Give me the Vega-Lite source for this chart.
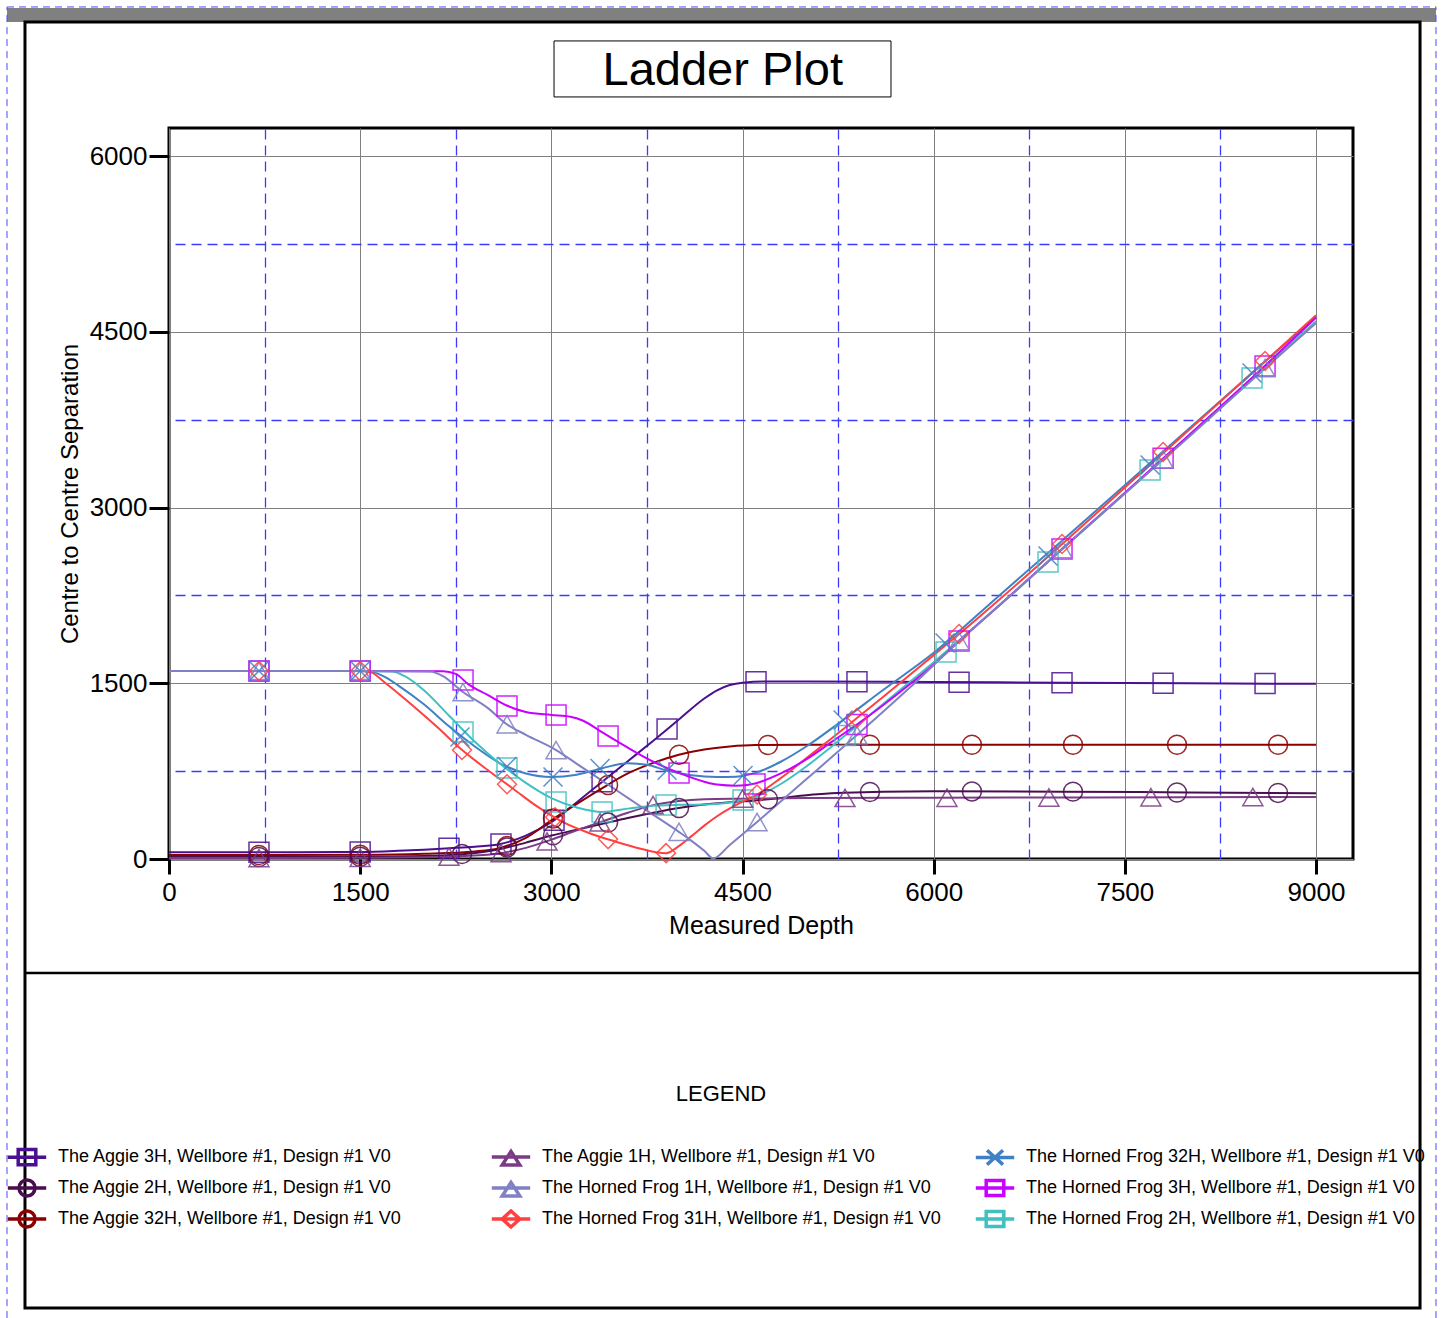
{
  "$schema": "https://vega.github.io/schema/vega-lite/v6.json",
  "width": 1184,
  "height": 731,
  "autosize": {"type": "none"},
  "padding": {"left": 169, "top": 128, "right": 88, "bottom": 459},
  "background": "white",
  "config": {"view": {"stroke": "black", "strokeWidth": 3}},
  "datasets": {
    "curves": [
      {"well":"The Aggie 3H, Wellbore #1, Design #1 V0","md":0,"sep":57},{"well":"The Aggie 3H, Wellbore #1, Design #1 V0","md":1000,"sep":58},{"well":"The Aggie 3H, Wellbore #1, Design #1 V0","md":1500,"sep":60},{"well":"The Aggie 3H, Wellbore #1, Design #1 V0","md":1800,"sep":70},{"well":"The Aggie 3H, Wellbore #1, Design #1 V0","md":2000,"sep":80},{"well":"The Aggie 3H, Wellbore #1, Design #1 V0","md":2200,"sep":92},{"well":"The Aggie 3H, Wellbore #1, Design #1 V0","md":2400,"sep":105},{"well":"The Aggie 3H, Wellbore #1, Design #1 V0","md":2600,"sep":128},{"well":"The Aggie 3H, Wellbore #1, Design #1 V0","md":2800,"sep":200},{"well":"The Aggie 3H, Wellbore #1, Design #1 V0","md":3000,"sep":315},{"well":"The Aggie 3H, Wellbore #1, Design #1 V0","md":3200,"sep":485},{"well":"The Aggie 3H, Wellbore #1, Design #1 V0","md":3400,"sep":660},{"well":"The Aggie 3H, Wellbore #1, Design #1 V0","md":3600,"sep":835},{"well":"The Aggie 3H, Wellbore #1, Design #1 V0","md":3800,"sep":1010},{"well":"The Aggie 3H, Wellbore #1, Design #1 V0","md":4000,"sep":1190},{"well":"The Aggie 3H, Wellbore #1, Design #1 V0","md":4200,"sep":1370},{"well":"The Aggie 3H, Wellbore #1, Design #1 V0","md":4300,"sep":1440},{"well":"The Aggie 3H, Wellbore #1, Design #1 V0","md":4400,"sep":1485},{"well":"The Aggie 3H, Wellbore #1, Design #1 V0","md":4500,"sep":1505},{"well":"The Aggie 3H, Wellbore #1, Design #1 V0","md":4700,"sep":1515},{"well":"The Aggie 3H, Wellbore #1, Design #1 V0","md":5000,"sep":1515},{"well":"The Aggie 3H, Wellbore #1, Design #1 V0","md":6000,"sep":1510},{"well":"The Aggie 3H, Wellbore #1, Design #1 V0","md":7000,"sep":1505},{"well":"The Aggie 3H, Wellbore #1, Design #1 V0","md":8000,"sep":1500},{"well":"The Aggie 3H, Wellbore #1, Design #1 V0","md":9000,"sep":1495},
      {"well":"The Aggie 32H, Wellbore #1, Design #1 V0","md":0,"sep":34},{"well":"The Aggie 32H, Wellbore #1, Design #1 V0","md":1500,"sep":36},{"well":"The Aggie 32H, Wellbore #1, Design #1 V0","md":2000,"sep":45},{"well":"The Aggie 32H, Wellbore #1, Design #1 V0","md":2400,"sep":65},{"well":"The Aggie 32H, Wellbore #1, Design #1 V0","md":2600,"sep":95},{"well":"The Aggie 32H, Wellbore #1, Design #1 V0","md":2800,"sep":180},{"well":"The Aggie 32H, Wellbore #1, Design #1 V0","md":3000,"sep":330},{"well":"The Aggie 32H, Wellbore #1, Design #1 V0","md":3200,"sep":470},{"well":"The Aggie 32H, Wellbore #1, Design #1 V0","md":3400,"sep":605},{"well":"The Aggie 32H, Wellbore #1, Design #1 V0","md":3600,"sep":730},{"well":"The Aggie 32H, Wellbore #1, Design #1 V0","md":3800,"sep":820},{"well":"The Aggie 32H, Wellbore #1, Design #1 V0","md":4000,"sep":890},{"well":"The Aggie 32H, Wellbore #1, Design #1 V0","md":4200,"sep":935},{"well":"The Aggie 32H, Wellbore #1, Design #1 V0","md":4400,"sep":960},{"well":"The Aggie 32H, Wellbore #1, Design #1 V0","md":4600,"sep":972},{"well":"The Aggie 32H, Wellbore #1, Design #1 V0","md":5000,"sep":975},{"well":"The Aggie 32H, Wellbore #1, Design #1 V0","md":9000,"sep":975},
      {"well":"The Aggie 2H, Wellbore #1, Design #1 V0","md":0,"sep":17},{"well":"The Aggie 2H, Wellbore #1, Design #1 V0","md":1500,"sep":19},{"well":"The Aggie 2H, Wellbore #1, Design #1 V0","md":2000,"sep":25},{"well":"The Aggie 2H, Wellbore #1, Design #1 V0","md":2300,"sep":40},{"well":"The Aggie 2H, Wellbore #1, Design #1 V0","md":2600,"sep":85},{"well":"The Aggie 2H, Wellbore #1, Design #1 V0","md":2800,"sep":140},{"well":"The Aggie 2H, Wellbore #1, Design #1 V0","md":3000,"sep":200},{"well":"The Aggie 2H, Wellbore #1, Design #1 V0","md":3200,"sep":250},{"well":"The Aggie 2H, Wellbore #1, Design #1 V0","md":3400,"sep":300},{"well":"The Aggie 2H, Wellbore #1, Design #1 V0","md":3600,"sep":350},{"well":"The Aggie 2H, Wellbore #1, Design #1 V0","md":3800,"sep":395},{"well":"The Aggie 2H, Wellbore #1, Design #1 V0","md":4000,"sep":435},{"well":"The Aggie 2H, Wellbore #1, Design #1 V0","md":4200,"sep":465},{"well":"The Aggie 2H, Wellbore #1, Design #1 V0","md":4400,"sep":485},{"well":"The Aggie 2H, Wellbore #1, Design #1 V0","md":4600,"sep":500},{"well":"The Aggie 2H, Wellbore #1, Design #1 V0","md":4800,"sep":520},{"well":"The Aggie 2H, Wellbore #1, Design #1 V0","md":5000,"sep":545},{"well":"The Aggie 2H, Wellbore #1, Design #1 V0","md":5300,"sep":565},{"well":"The Aggie 2H, Wellbore #1, Design #1 V0","md":5600,"sep":575},{"well":"The Aggie 2H, Wellbore #1, Design #1 V0","md":6000,"sep":578},{"well":"The Aggie 2H, Wellbore #1, Design #1 V0","md":7000,"sep":575},{"well":"The Aggie 2H, Wellbore #1, Design #1 V0","md":8000,"sep":568},{"well":"The Aggie 2H, Wellbore #1, Design #1 V0","md":9000,"sep":562},
      {"well":"The Aggie 1H, Wellbore #1, Design #1 V0","md":0,"sep":8},{"well":"The Aggie 1H, Wellbore #1, Design #1 V0","md":1500,"sep":10},{"well":"The Aggie 1H, Wellbore #1, Design #1 V0","md":2000,"sep":15},{"well":"The Aggie 1H, Wellbore #1, Design #1 V0","md":2300,"sep":25},{"well":"The Aggie 1H, Wellbore #1, Design #1 V0","md":2600,"sep":50},{"well":"The Aggie 1H, Wellbore #1, Design #1 V0","md":2800,"sep":95},{"well":"The Aggie 1H, Wellbore #1, Design #1 V0","md":3000,"sep":165},{"well":"The Aggie 1H, Wellbore #1, Design #1 V0","md":3200,"sep":245},{"well":"The Aggie 1H, Wellbore #1, Design #1 V0","md":3400,"sep":320},{"well":"The Aggie 1H, Wellbore #1, Design #1 V0","md":3600,"sep":395},{"well":"The Aggie 1H, Wellbore #1, Design #1 V0","md":3800,"sep":460},{"well":"The Aggie 1H, Wellbore #1, Design #1 V0","md":4000,"sep":495},{"well":"The Aggie 1H, Wellbore #1, Design #1 V0","md":4200,"sep":510},{"well":"The Aggie 1H, Wellbore #1, Design #1 V0","md":4500,"sep":515},{"well":"The Aggie 1H, Wellbore #1, Design #1 V0","md":5000,"sep":520},{"well":"The Aggie 1H, Wellbore #1, Design #1 V0","md":6000,"sep":523},{"well":"The Aggie 1H, Wellbore #1, Design #1 V0","md":7000,"sep":525},{"well":"The Aggie 1H, Wellbore #1, Design #1 V0","md":8000,"sep":527},{"well":"The Aggie 1H, Wellbore #1, Design #1 V0","md":9000,"sep":530},
      {"well":"The Horned Frog 32H, Wellbore #1, Design #1 V0","md":0,"sep":1605},{"well":"The Horned Frog 32H, Wellbore #1, Design #1 V0","md":1500,"sep":1605},{"well":"The Horned Frog 32H, Wellbore #1, Design #1 V0","md":1600,"sep":1595},{"well":"The Horned Frog 32H, Wellbore #1, Design #1 V0","md":1700,"sep":1550},{"well":"The Horned Frog 32H, Wellbore #1, Design #1 V0","md":1800,"sep":1480},{"well":"The Horned Frog 32H, Wellbore #1, Design #1 V0","md":2000,"sep":1320},{"well":"The Horned Frog 32H, Wellbore #1, Design #1 V0","md":2200,"sep":1130},{"well":"The Horned Frog 32H, Wellbore #1, Design #1 V0","md":2400,"sep":960},{"well":"The Horned Frog 32H, Wellbore #1, Design #1 V0","md":2600,"sep":815},{"well":"The Horned Frog 32H, Wellbore #1, Design #1 V0","md":2800,"sep":730},{"well":"The Horned Frog 32H, Wellbore #1, Design #1 V0","md":3000,"sep":700},{"well":"The Horned Frog 32H, Wellbore #1, Design #1 V0","md":3200,"sep":720},{"well":"The Horned Frog 32H, Wellbore #1, Design #1 V0","md":3400,"sep":775},{"well":"The Horned Frog 32H, Wellbore #1, Design #1 V0","md":3600,"sep":818},{"well":"The Horned Frog 32H, Wellbore #1, Design #1 V0","md":3750,"sep":805},{"well":"The Horned Frog 32H, Wellbore #1, Design #1 V0","md":3900,"sep":757},{"well":"The Horned Frog 32H, Wellbore #1, Design #1 V0","md":4100,"sep":715},{"well":"The Horned Frog 32H, Wellbore #1, Design #1 V0","md":4300,"sep":700},{"well":"The Horned Frog 32H, Wellbore #1, Design #1 V0","md":4450,"sep":703},{"well":"The Horned Frog 32H, Wellbore #1, Design #1 V0","md":4600,"sep":735},{"well":"The Horned Frog 32H, Wellbore #1, Design #1 V0","md":4800,"sep":830},{"well":"The Horned Frog 32H, Wellbore #1, Design #1 V0","md":5000,"sep":960},{"well":"The Horned Frog 32H, Wellbore #1, Design #1 V0","md":5289,"sep":1186},{"well":"The Horned Frog 32H, Wellbore #1, Design #1 V0","md":5600,"sep":1440},{"well":"The Horned Frog 32H, Wellbore #1, Design #1 V0","md":6000,"sep":1760},{"well":"The Horned Frog 32H, Wellbore #1, Design #1 V0","md":6500,"sep":2235},{"well":"The Horned Frog 32H, Wellbore #1, Design #1 V0","md":7000,"sep":2710},{"well":"The Horned Frog 32H, Wellbore #1, Design #1 V0","md":7500,"sep":3190},{"well":"The Horned Frog 32H, Wellbore #1, Design #1 V0","md":8000,"sep":3670},{"well":"The Horned Frog 32H, Wellbore #1, Design #1 V0","md":8500,"sep":4150},{"well":"The Horned Frog 32H, Wellbore #1, Design #1 V0","md":9000,"sep":4628},
      {"well":"The Horned Frog 2H, Wellbore #1, Design #1 V0","md":0,"sep":1605},{"well":"The Horned Frog 2H, Wellbore #1, Design #1 V0","md":1500,"sep":1605},{"well":"The Horned Frog 2H, Wellbore #1, Design #1 V0","md":1750,"sep":1600},{"well":"The Horned Frog 2H, Wellbore #1, Design #1 V0","md":1850,"sep":1560},{"well":"The Horned Frog 2H, Wellbore #1, Design #1 V0","md":2000,"sep":1440},{"well":"The Horned Frog 2H, Wellbore #1, Design #1 V0","md":2200,"sep":1220},{"well":"The Horned Frog 2H, Wellbore #1, Design #1 V0","md":2400,"sep":1000},{"well":"The Horned Frog 2H, Wellbore #1, Design #1 V0","md":2600,"sep":810},{"well":"The Horned Frog 2H, Wellbore #1, Design #1 V0","md":2800,"sep":650},{"well":"The Horned Frog 2H, Wellbore #1, Design #1 V0","md":3000,"sep":520},{"well":"The Horned Frog 2H, Wellbore #1, Design #1 V0","md":3200,"sep":440},{"well":"The Horned Frog 2H, Wellbore #1, Design #1 V0","md":3400,"sep":402},{"well":"The Horned Frog 2H, Wellbore #1, Design #1 V0","md":3600,"sep":430},{"well":"The Horned Frog 2H, Wellbore #1, Design #1 V0","md":3800,"sep":455},{"well":"The Horned Frog 2H, Wellbore #1, Design #1 V0","md":4000,"sep":462},{"well":"The Horned Frog 2H, Wellbore #1, Design #1 V0","md":4200,"sep":465},{"well":"The Horned Frog 2H, Wellbore #1, Design #1 V0","md":4400,"sep":482},{"well":"The Horned Frog 2H, Wellbore #1, Design #1 V0","md":4600,"sep":530},{"well":"The Horned Frog 2H, Wellbore #1, Design #1 V0","md":4800,"sep":640},{"well":"The Horned Frog 2H, Wellbore #1, Design #1 V0","md":5000,"sep":790},{"well":"The Horned Frog 2H, Wellbore #1, Design #1 V0","md":5200,"sep":960},{"well":"The Horned Frog 2H, Wellbore #1, Design #1 V0","md":5400,"sep":1140},{"well":"The Horned Frog 2H, Wellbore #1, Design #1 V0","md":5600,"sep":1320},{"well":"The Horned Frog 2H, Wellbore #1, Design #1 V0","md":5800,"sep":1500},{"well":"The Horned Frog 2H, Wellbore #1, Design #1 V0","md":6000,"sep":1680},{"well":"The Horned Frog 2H, Wellbore #1, Design #1 V0","md":6500,"sep":2150},{"well":"The Horned Frog 2H, Wellbore #1, Design #1 V0","md":7000,"sep":2635},{"well":"The Horned Frog 2H, Wellbore #1, Design #1 V0","md":7500,"sep":3120},{"well":"The Horned Frog 2H, Wellbore #1, Design #1 V0","md":8000,"sep":3610},{"well":"The Horned Frog 2H, Wellbore #1, Design #1 V0","md":8500,"sep":4100},{"well":"The Horned Frog 2H, Wellbore #1, Design #1 V0","md":9000,"sep":4590},
      {"well":"The Horned Frog 31H, Wellbore #1, Design #1 V0","md":0,"sep":1605},{"well":"The Horned Frog 31H, Wellbore #1, Design #1 V0","md":1500,"sep":1605},{"well":"The Horned Frog 31H, Wellbore #1, Design #1 V0","md":1580,"sep":1595},{"well":"The Horned Frog 31H, Wellbore #1, Design #1 V0","md":1700,"sep":1500},{"well":"The Horned Frog 31H, Wellbore #1, Design #1 V0","md":1900,"sep":1320},{"well":"The Horned Frog 31H, Wellbore #1, Design #1 V0","md":2100,"sep":1130},{"well":"The Horned Frog 31H, Wellbore #1, Design #1 V0","md":2300,"sep":930},{"well":"The Horned Frog 31H, Wellbore #1, Design #1 V0","md":2500,"sep":760},{"well":"The Horned Frog 31H, Wellbore #1, Design #1 V0","md":2700,"sep":600},{"well":"The Horned Frog 31H, Wellbore #1, Design #1 V0","md":2900,"sep":440},{"well":"The Horned Frog 31H, Wellbore #1, Design #1 V0","md":3100,"sep":310},{"well":"The Horned Frog 31H, Wellbore #1, Design #1 V0","md":3300,"sep":220},{"well":"The Horned Frog 31H, Wellbore #1, Design #1 V0","md":3500,"sep":150},{"well":"The Horned Frog 31H, Wellbore #1, Design #1 V0","md":3700,"sep":88},{"well":"The Horned Frog 31H, Wellbore #1, Design #1 V0","md":3820,"sep":58},{"well":"The Horned Frog 31H, Wellbore #1, Design #1 V0","md":3900,"sep":50},{"well":"The Horned Frog 31H, Wellbore #1, Design #1 V0","md":4000,"sep":110},{"well":"The Horned Frog 31H, Wellbore #1, Design #1 V0","md":4100,"sep":195},{"well":"The Horned Frog 31H, Wellbore #1, Design #1 V0","md":4200,"sep":285},{"well":"The Horned Frog 31H, Wellbore #1, Design #1 V0","md":4300,"sep":365},{"well":"The Horned Frog 31H, Wellbore #1, Design #1 V0","md":4400,"sep":432},{"well":"The Horned Frog 31H, Wellbore #1, Design #1 V0","md":4500,"sep":490},{"well":"The Horned Frog 31H, Wellbore #1, Design #1 V0","md":4614,"sep":550},{"well":"The Horned Frog 31H, Wellbore #1, Design #1 V0","md":4800,"sep":690},{"well":"The Horned Frog 31H, Wellbore #1, Design #1 V0","md":5000,"sep":860},{"well":"The Horned Frog 31H, Wellbore #1, Design #1 V0","md":5200,"sep":1030},{"well":"The Horned Frog 31H, Wellbore #1, Design #1 V0","md":5400,"sep":1205},{"well":"The Horned Frog 31H, Wellbore #1, Design #1 V0","md":5600,"sep":1380},{"well":"The Horned Frog 31H, Wellbore #1, Design #1 V0","md":5800,"sep":1560},{"well":"The Horned Frog 31H, Wellbore #1, Design #1 V0","md":6000,"sep":1740},{"well":"The Horned Frog 31H, Wellbore #1, Design #1 V0","md":6200,"sep":1920},{"well":"The Horned Frog 31H, Wellbore #1, Design #1 V0","md":6500,"sep":2200},{"well":"The Horned Frog 31H, Wellbore #1, Design #1 V0","md":7000,"sep":2680},{"well":"The Horned Frog 31H, Wellbore #1, Design #1 V0","md":7500,"sep":3170},{"well":"The Horned Frog 31H, Wellbore #1, Design #1 V0","md":8000,"sep":3660},{"well":"The Horned Frog 31H, Wellbore #1, Design #1 V0","md":8500,"sep":4150},{"well":"The Horned Frog 31H, Wellbore #1, Design #1 V0","md":9000,"sep":4640},
      {"well":"The Horned Frog 3H, Wellbore #1, Design #1 V0","md":0,"sep":1605},{"well":"The Horned Frog 3H, Wellbore #1, Design #1 V0","md":1500,"sep":1605},{"well":"The Horned Frog 3H, Wellbore #1, Design #1 V0","md":2150,"sep":1603},{"well":"The Horned Frog 3H, Wellbore #1, Design #1 V0","md":2250,"sep":1580},{"well":"The Horned Frog 3H, Wellbore #1, Design #1 V0","md":2350,"sep":1490},{"well":"The Horned Frog 3H, Wellbore #1, Design #1 V0","md":2500,"sep":1400},{"well":"The Horned Frog 3H, Wellbore #1, Design #1 V0","md":2650,"sep":1310},{"well":"The Horned Frog 3H, Wellbore #1, Design #1 V0","md":2800,"sep":1255},{"well":"The Horned Frog 3H, Wellbore #1, Design #1 V0","md":3000,"sep":1230},{"well":"The Horned Frog 3H, Wellbore #1, Design #1 V0","md":3150,"sep":1215},{"well":"The Horned Frog 3H, Wellbore #1, Design #1 V0","md":3250,"sep":1180},{"well":"The Horned Frog 3H, Wellbore #1, Design #1 V0","md":3400,"sep":1080},{"well":"The Horned Frog 3H, Wellbore #1, Design #1 V0","md":3600,"sep":950},{"well":"The Horned Frog 3H, Wellbore #1, Design #1 V0","md":3800,"sep":830},{"well":"The Horned Frog 3H, Wellbore #1, Design #1 V0","md":4000,"sep":735},{"well":"The Horned Frog 3H, Wellbore #1, Design #1 V0","md":4200,"sep":660},{"well":"The Horned Frog 3H, Wellbore #1, Design #1 V0","md":4300,"sep":635},{"well":"The Horned Frog 3H, Wellbore #1, Design #1 V0","md":4450,"sep":625},{"well":"The Horned Frog 3H, Wellbore #1, Design #1 V0","md":4600,"sep":645},{"well":"The Horned Frog 3H, Wellbore #1, Design #1 V0","md":4800,"sep":730},{"well":"The Horned Frog 3H, Wellbore #1, Design #1 V0","md":5000,"sep":850},{"well":"The Horned Frog 3H, Wellbore #1, Design #1 V0","md":5200,"sep":1000},{"well":"The Horned Frog 3H, Wellbore #1, Design #1 V0","md":5400,"sep":1150},{"well":"The Horned Frog 3H, Wellbore #1, Design #1 V0","md":5600,"sep":1310},{"well":"The Horned Frog 3H, Wellbore #1, Design #1 V0","md":5800,"sep":1480},{"well":"The Horned Frog 3H, Wellbore #1, Design #1 V0","md":6000,"sep":1660},{"well":"The Horned Frog 3H, Wellbore #1, Design #1 V0","md":6200,"sep":1860},{"well":"The Horned Frog 3H, Wellbore #1, Design #1 V0","md":6500,"sep":2150},{"well":"The Horned Frog 3H, Wellbore #1, Design #1 V0","md":7000,"sep":2640},{"well":"The Horned Frog 3H, Wellbore #1, Design #1 V0","md":7500,"sep":3125},{"well":"The Horned Frog 3H, Wellbore #1, Design #1 V0","md":8000,"sep":3615},{"well":"The Horned Frog 3H, Wellbore #1, Design #1 V0","md":8500,"sep":4110},{"well":"The Horned Frog 3H, Wellbore #1, Design #1 V0","md":9000,"sep":4620},
      {"well":"The Horned Frog 1H, Wellbore #1, Design #1 V0","md":0,"sep":1605},{"well":"The Horned Frog 1H, Wellbore #1, Design #1 V0","md":1500,"sep":1605},{"well":"The Horned Frog 1H, Wellbore #1, Design #1 V0","md":2050,"sep":1600},{"well":"The Horned Frog 1H, Wellbore #1, Design #1 V0","md":2150,"sep":1560},{"well":"The Horned Frog 1H, Wellbore #1, Design #1 V0","md":2300,"sep":1430},{"well":"The Horned Frog 1H, Wellbore #1, Design #1 V0","md":2500,"sep":1290},{"well":"The Horned Frog 1H, Wellbore #1, Design #1 V0","md":2650,"sep":1150},{"well":"The Horned Frog 1H, Wellbore #1, Design #1 V0","md":2800,"sep":1060},{"well":"The Horned Frog 1H, Wellbore #1, Design #1 V0","md":3037,"sep":930},{"well":"The Horned Frog 1H, Wellbore #1, Design #1 V0","md":3200,"sep":812},{"well":"The Horned Frog 1H, Wellbore #1, Design #1 V0","md":3400,"sep":667},{"well":"The Horned Frog 1H, Wellbore #1, Design #1 V0","md":3600,"sep":522},{"well":"The Horned Frog 1H, Wellbore #1, Design #1 V0","md":3800,"sep":377},{"well":"The Horned Frog 1H, Wellbore #1, Design #1 V0","md":4000,"sep":232},{"well":"The Horned Frog 1H, Wellbore #1, Design #1 V0","md":4100,"sep":155},{"well":"The Horned Frog 1H, Wellbore #1, Design #1 V0","md":4200,"sep":70},{"well":"The Horned Frog 1H, Wellbore #1, Design #1 V0","md":4270,"sep":5},{"well":"The Horned Frog 1H, Wellbore #1, Design #1 V0","md":4400,"sep":120},{"well":"The Horned Frog 1H, Wellbore #1, Design #1 V0","md":4614,"sep":316},{"well":"The Horned Frog 1H, Wellbore #1, Design #1 V0","md":5000,"sep":680},{"well":"The Horned Frog 1H, Wellbore #1, Design #1 V0","md":5400,"sep":1060},{"well":"The Horned Frog 1H, Wellbore #1, Design #1 V0","md":5800,"sep":1450},{"well":"The Horned Frog 1H, Wellbore #1, Design #1 V0","md":6200,"sep":1860},{"well":"The Horned Frog 1H, Wellbore #1, Design #1 V0","md":6500,"sep":2150},{"well":"The Horned Frog 1H, Wellbore #1, Design #1 V0","md":7000,"sep":2640},{"well":"The Horned Frog 1H, Wellbore #1, Design #1 V0","md":7500,"sep":3120},{"well":"The Horned Frog 1H, Wellbore #1, Design #1 V0","md":8000,"sep":3600},{"well":"The Horned Frog 1H, Wellbore #1, Design #1 V0","md":8500,"sep":4090},{"well":"The Horned Frog 1H, Wellbore #1, Design #1 V0","md":9000,"sep":4575}
    ],
    "markers": [
      {"well":"The Aggie 3H, Wellbore #1, Design #1 V0","md":706,"sep":57},{"well":"The Aggie 3H, Wellbore #1, Design #1 V0","md":1500,"sep":60},{"well":"The Aggie 3H, Wellbore #1, Design #1 V0","md":2197,"sep":92},{"well":"The Aggie 3H, Wellbore #1, Design #1 V0","md":2605,"sep":128},{"well":"The Aggie 3H, Wellbore #1, Design #1 V0","md":3021,"sep":330},{"well":"The Aggie 3H, Wellbore #1, Design #1 V0","md":3398,"sep":660},{"well":"The Aggie 3H, Wellbore #1, Design #1 V0","md":3908,"sep":1110},{"well":"The Aggie 3H, Wellbore #1, Design #1 V0","md":4606,"sep":1512},{"well":"The Aggie 3H, Wellbore #1, Design #1 V0","md":5398,"sep":1513},{"well":"The Aggie 3H, Wellbore #1, Design #1 V0","md":6199,"sep":1509},{"well":"The Aggie 3H, Wellbore #1, Design #1 V0","md":7007,"sep":1505},{"well":"The Aggie 3H, Wellbore #1, Design #1 V0","md":7800,"sep":1501},{"well":"The Aggie 3H, Wellbore #1, Design #1 V0","md":8600,"sep":1497},
      {"well":"The Aggie 32H, Wellbore #1, Design #1 V0","md":706,"sep":34},{"well":"The Aggie 32H, Wellbore #1, Design #1 V0","md":1500,"sep":36},{"well":"The Aggie 32H, Wellbore #1, Design #1 V0","md":2652,"sep":111},{"well":"The Aggie 32H, Wellbore #1, Design #1 V0","md":3013,"sep":345},{"well":"The Aggie 32H, Wellbore #1, Design #1 V0","md":3445,"sep":632},{"well":"The Aggie 32H, Wellbore #1, Design #1 V0","md":4002,"sep":890},{"well":"The Aggie 32H, Wellbore #1, Design #1 V0","md":4700,"sep":973},{"well":"The Aggie 32H, Wellbore #1, Design #1 V0","md":5500,"sep":975},{"well":"The Aggie 32H, Wellbore #1, Design #1 V0","md":6300,"sep":975},{"well":"The Aggie 32H, Wellbore #1, Design #1 V0","md":7093,"sep":975},{"well":"The Aggie 32H, Wellbore #1, Design #1 V0","md":7909,"sep":975},{"well":"The Aggie 32H, Wellbore #1, Design #1 V0","md":8702,"sep":975},
      {"well":"The Aggie 2H, Wellbore #1, Design #1 V0","md":706,"sep":17},{"well":"The Aggie 2H, Wellbore #1, Design #1 V0","md":1500,"sep":19},{"well":"The Aggie 2H, Wellbore #1, Design #1 V0","md":2299,"sep":42},{"well":"The Aggie 2H, Wellbore #1, Design #1 V0","md":2652,"sep":98},{"well":"The Aggie 2H, Wellbore #1, Design #1 V0","md":3013,"sep":203},{"well":"The Aggie 2H, Wellbore #1, Design #1 V0","md":3445,"sep":311},{"well":"The Aggie 2H, Wellbore #1, Design #1 V0","md":4002,"sep":435},{"well":"The Aggie 2H, Wellbore #1, Design #1 V0","md":4700,"sep":510},{"well":"The Aggie 2H, Wellbore #1, Design #1 V0","md":5500,"sep":572},{"well":"The Aggie 2H, Wellbore #1, Design #1 V0","md":6300,"sep":577},{"well":"The Aggie 2H, Wellbore #1, Design #1 V0","md":7093,"sep":575},{"well":"The Aggie 2H, Wellbore #1, Design #1 V0","md":7909,"sep":568},{"well":"The Aggie 2H, Wellbore #1, Design #1 V0","md":8702,"sep":564},
      {"well":"The Aggie 1H, Wellbore #1, Design #1 V0","md":706,"sep":8},{"well":"The Aggie 1H, Wellbore #1, Design #1 V0","md":1500,"sep":10},{"well":"The Aggie 1H, Wellbore #1, Design #1 V0","md":2197,"sep":20},{"well":"The Aggie 1H, Wellbore #1, Design #1 V0","md":2605,"sep":50},{"well":"The Aggie 1H, Wellbore #1, Design #1 V0","md":2966,"sep":150},{"well":"The Aggie 1H, Wellbore #1, Design #1 V0","md":3382,"sep":313},{"well":"The Aggie 1H, Wellbore #1, Design #1 V0","md":3798,"sep":460},{"well":"The Aggie 1H, Wellbore #1, Design #1 V0","md":4500,"sep":515},{"well":"The Aggie 1H, Wellbore #1, Design #1 V0","md":5304,"sep":521},{"well":"The Aggie 1H, Wellbore #1, Design #1 V0","md":6104,"sep":523},{"well":"The Aggie 1H, Wellbore #1, Design #1 V0","md":6904,"sep":525},{"well":"The Aggie 1H, Wellbore #1, Design #1 V0","md":7704,"sep":527},{"well":"The Aggie 1H, Wellbore #1, Design #1 V0","md":8504,"sep":529},
      {"well":"The Horned Frog 32H, Wellbore #1, Design #1 V0","md":706,"sep":1605},{"well":"The Horned Frog 32H, Wellbore #1, Design #1 V0","md":1500,"sep":1605},{"well":"The Horned Frog 32H, Wellbore #1, Design #1 V0","md":2283,"sep":1041},{"well":"The Horned Frog 32H, Wellbore #1, Design #1 V0","md":2652,"sep":790},{"well":"The Horned Frog 32H, Wellbore #1, Design #1 V0","md":3013,"sep":700},{"well":"The Horned Frog 32H, Wellbore #1, Design #1 V0","md":3382,"sep":772},{"well":"The Horned Frog 32H, Wellbore #1, Design #1 V0","md":3908,"sep":757},{"well":"The Horned Frog 32H, Wellbore #1, Design #1 V0","md":4504,"sep":712},{"well":"The Horned Frog 32H, Wellbore #1, Design #1 V0","md":5289,"sep":1186},{"well":"The Horned Frog 32H, Wellbore #1, Design #1 V0","md":6089,"sep":1843},{"well":"The Horned Frog 32H, Wellbore #1, Design #1 V0","md":6897,"sep":2586},{"well":"The Horned Frog 32H, Wellbore #1, Design #1 V0","md":7698,"sep":3363},{"well":"The Horned Frog 32H, Wellbore #1, Design #1 V0","md":8498,"sep":4148},
      {"well":"The Horned Frog 2H, Wellbore #1, Design #1 V0","md":706,"sep":1605},{"well":"The Horned Frog 2H, Wellbore #1, Design #1 V0","md":1500,"sep":1605},{"well":"The Horned Frog 2H, Wellbore #1, Design #1 V0","md":2307,"sep":1084},{"well":"The Horned Frog 2H, Wellbore #1, Design #1 V0","md":2652,"sep":777},{"well":"The Horned Frog 2H, Wellbore #1, Design #1 V0","md":3037,"sep":486},{"well":"The Horned Frog 2H, Wellbore #1, Design #1 V0","md":3398,"sep":402},{"well":"The Horned Frog 2H, Wellbore #1, Design #1 V0","md":3900,"sep":460},{"well":"The Horned Frog 2H, Wellbore #1, Design #1 V0","md":4504,"sep":503},{"well":"The Horned Frog 2H, Wellbore #1, Design #1 V0","md":5304,"sep":1055},{"well":"The Horned Frog 2H, Wellbore #1, Design #1 V0","md":6097,"sep":1767},{"well":"The Horned Frog 2H, Wellbore #1, Design #1 V0","md":6897,"sep":2535},{"well":"The Horned Frog 2H, Wellbore #1, Design #1 V0","md":7698,"sep":3320},{"well":"The Horned Frog 2H, Wellbore #1, Design #1 V0","md":8498,"sep":4105},
      {"well":"The Horned Frog 31H, Wellbore #1, Design #1 V0","md":706,"sep":1605},{"well":"The Horned Frog 31H, Wellbore #1, Design #1 V0","md":1500,"sep":1605},{"well":"The Horned Frog 31H, Wellbore #1, Design #1 V0","md":2299,"sep":930},{"well":"The Horned Frog 31H, Wellbore #1, Design #1 V0","md":2652,"sep":638},{"well":"The Horned Frog 31H, Wellbore #1, Design #1 V0","md":3029,"sep":356},{"well":"The Horned Frog 31H, Wellbore #1, Design #1 V0","md":3445,"sep":170},{"well":"The Horned Frog 31H, Wellbore #1, Design #1 V0","md":3900,"sep":50},{"well":"The Horned Frog 31H, Wellbore #1, Design #1 V0","md":4614,"sep":550},{"well":"The Horned Frog 31H, Wellbore #1, Design #1 V0","md":5398,"sep":1203},{"well":"The Horned Frog 31H, Wellbore #1, Design #1 V0","md":6199,"sep":1920},{"well":"The Horned Frog 31H, Wellbore #1, Design #1 V0","md":7007,"sep":2689},{"well":"The Horned Frog 31H, Wellbore #1, Design #1 V0","md":7800,"sep":3474},{"well":"The Horned Frog 31H, Wellbore #1, Design #1 V0","md":8600,"sep":4250},
      {"well":"The Horned Frog 3H, Wellbore #1, Design #1 V0","md":706,"sep":1605},{"well":"The Horned Frog 3H, Wellbore #1, Design #1 V0","md":1500,"sep":1605},{"well":"The Horned Frog 3H, Wellbore #1, Design #1 V0","md":2307,"sep":1528},{"well":"The Horned Frog 3H, Wellbore #1, Design #1 V0","md":2652,"sep":1306},{"well":"The Horned Frog 3H, Wellbore #1, Design #1 V0","md":3037,"sep":1229},{"well":"The Horned Frog 3H, Wellbore #1, Design #1 V0","md":3445,"sep":1050},{"well":"The Horned Frog 3H, Wellbore #1, Design #1 V0","md":4002,"sep":734},{"well":"The Horned Frog 3H, Wellbore #1, Design #1 V0","md":4598,"sep":640},{"well":"The Horned Frog 3H, Wellbore #1, Design #1 V0","md":5398,"sep":1148},{"well":"The Horned Frog 3H, Wellbore #1, Design #1 V0","md":6199,"sep":1860},{"well":"The Horned Frog 3H, Wellbore #1, Design #1 V0","md":7007,"sep":2645},{"well":"The Horned Frog 3H, Wellbore #1, Design #1 V0","md":7800,"sep":3420},{"well":"The Horned Frog 3H, Wellbore #1, Design #1 V0","md":8600,"sep":4208},
      {"well":"The Horned Frog 1H, Wellbore #1, Design #1 V0","md":706,"sep":1605},{"well":"The Horned Frog 1H, Wellbore #1, Design #1 V0","md":1500,"sep":1605},{"well":"The Horned Frog 1H, Wellbore #1, Design #1 V0","md":2307,"sep":1425},{"well":"The Horned Frog 1H, Wellbore #1, Design #1 V0","md":2652,"sep":1150},{"well":"The Horned Frog 1H, Wellbore #1, Design #1 V0","md":3037,"sep":930},{"well":"The Horned Frog 1H, Wellbore #1, Design #1 V0","md":4002,"sep":232},{"well":"The Horned Frog 1H, Wellbore #1, Design #1 V0","md":4614,"sep":316},{"well":"The Horned Frog 1H, Wellbore #1, Design #1 V0","md":5398,"sep":1055},{"well":"The Horned Frog 1H, Wellbore #1, Design #1 V0","md":6199,"sep":1860},{"well":"The Horned Frog 1H, Wellbore #1, Design #1 V0","md":7007,"sep":2645},{"well":"The Horned Frog 1H, Wellbore #1, Design #1 V0","md":7800,"sep":3410},{"well":"The Horned Frog 1H, Wellbore #1, Design #1 V0","md":8600,"sep":4190}
    ]
  },
  "layer": [
    {
      "data": {"name": "markers"},
      "mark": {"type": "point", "filled": false, "size": 256, "strokeWidth": 3.5, "opacity": 0},
      "encoding": {
        "x": {"field": "md", "type": "quantitative", "scale": {"domain": [0, 9290], "nice": false, "zero": false},
          "axis": {"orient": "top", "values": [750, 2250, 3750, 5250, 6750, 8250], "grid": true, "gridColor": "#3c3cff", "gridDash": [10, 6], "gridWidth": 1.3, "labels": false, "ticks": false, "domain": false, "title": null}},
        "y": {"field": "sep", "type": "quantitative", "scale": {"domain": [0, 6239], "nice": false, "zero": false},
          "axis": {"orient": "right", "values": [750, 2250, 3750, 5250], "grid": true, "gridColor": "#3c3cff", "gridDash": [10, 6], "gridWidth": 1.3, "labels": false, "ticks": false, "domain": false, "title": null}},
        "color": {"field": "well", "type": "nominal",
          "scale": {"domain": ["The Aggie 3H, Wellbore #1, Design #1 V0", "The Aggie 2H, Wellbore #1, Design #1 V0", "The Aggie 32H, Wellbore #1, Design #1 V0", "The Aggie 1H, Wellbore #1, Design #1 V0", "The Horned Frog 1H, Wellbore #1, Design #1 V0", "The Horned Frog 31H, Wellbore #1, Design #1 V0", "The Horned Frog 32H, Wellbore #1, Design #1 V0", "The Horned Frog 3H, Wellbore #1, Design #1 V0", "The Horned Frog 2H, Wellbore #1, Design #1 V0"],
            "range": ["#4b0f91", "#4a0d4f", "#8b0000", "#7b3b85", "#8080c4", "#ff4040", "#4080c4", "#c800ff", "#40c0c0"]},
          "legend": {"orient": "none", "legendX": -152, "legendY": 956, "padding": 0,
            "title": "LEGEND", "titleFont": "Liberation Sans", "titleFontSize": 22, "titleFontWeight": "normal", "titleColor": "black", "titleAnchor": "middle", "titlePadding": 41,
            "columns": 3, "gridAlign": "all", "columnPadding": 27, "rowPadding": 1,
            "labelFont": "Liberation Sans", "labelFontSize": 18, "labelColor": "black", "labelOffset": 21, "labelLimit": 600,
            "symbolSize": 256, "symbolStrokeWidth": 3.5, "symbolOpacity": 1}},
        "shape": {"field": "well", "type": "nominal",
          "scale": {"domain": ["The Aggie 3H, Wellbore #1, Design #1 V0", "The Aggie 2H, Wellbore #1, Design #1 V0", "The Aggie 32H, Wellbore #1, Design #1 V0", "The Aggie 1H, Wellbore #1, Design #1 V0", "The Horned Frog 1H, Wellbore #1, Design #1 V0", "The Horned Frog 31H, Wellbore #1, Design #1 V0", "The Horned Frog 32H, Wellbore #1, Design #1 V0", "The Horned Frog 3H, Wellbore #1, Design #1 V0", "The Horned Frog 2H, Wellbore #1, Design #1 V0"],
            "range": ["M-2.4,0H2.4M-1.1,-0.95H1.1V0.95H-1.1Z", "M-2.4,0H2.4M1,0A1,1,0,1,1,-1,0A1,1,0,1,1,1,0Z", "M-2.4,0H2.4M1,0A1,1,0,1,1,-1,0A1,1,0,1,1,1,0Z", "M-2.4,0H2.4M0,-0.7L1.1,1H-1.1Z", "M-2.4,0H2.4M0,-0.7L1.1,1H-1.1Z", "M-2.4,0H2.4M0,-1L1.1,0L0,1L-1.1,0Z", "M-2.4,0H2.4M-1,-0.9L1,0.9M-1,0.9L1,-0.9", "M-2.4,0H2.4M-1.1,-0.95H1.1V0.95H-1.1Z", "M-2.4,0H2.4M-1.1,-0.95H1.1V0.95H-1.1Z"]},
          "legend": {"orient": "none", "legendX": -152, "legendY": 956, "padding": 0,
            "title": "LEGEND", "titleFont": "Liberation Sans", "titleFontSize": 22, "titleFontWeight": "normal", "titleColor": "black", "titleAnchor": "middle", "titlePadding": 41,
            "columns": 3, "gridAlign": "all", "columnPadding": 27, "rowPadding": 1,
            "labelFont": "Liberation Sans", "labelFontSize": 18, "labelColor": "black", "labelOffset": 21, "labelLimit": 600,
            "symbolSize": 256, "symbolStrokeWidth": 3.5, "symbolOpacity": 1}}
      }
    },
    {
      "data": {"values": [{}]},
      "mark": {"type": "rect", "fill": "#808080", "clip": false},
      "encoding": {
        "x": {"datum": -1271, "type": "quantitative", "scale": {"domain": [0, 9290], "nice": false, "zero": false}, "axis": null},
        "x2": {"datum": 9941},
        "y": {"datum": 7144, "type": "quantitative", "scale": {"domain": [0, 6239], "nice": false, "zero": false}, "axis": null},
        "y2": {"datum": 7263}
      }
    },
    {
      "data": {"values": [{}]},
      "mark": {"type": "rect", "filled": false, "stroke": "black", "strokeWidth": 3, "clip": false},
      "encoding": {
        "x": {"datum": -1130, "type": "quantitative", "scale": {"domain": [0, 9290], "nice": false, "zero": false}, "axis": null},
        "x2": {"datum": 9816},
        "y": {"datum": -3832, "type": "quantitative", "scale": {"domain": [0, 6239], "nice": false, "zero": false}, "axis": null},
        "y2": {"datum": 7144}
      }
    },
    {
      "data": {"values": [{}]},
      "mark": {"type": "rule", "stroke": "black", "strokeWidth": 2.5, "clip": false},
      "encoding": {
        "x": {"datum": -1130, "type": "quantitative", "scale": {"domain": [0, 9290], "nice": false, "zero": false}, "axis": null},
        "x2": {"datum": 9816},
        "y": {"datum": -973, "type": "quantitative", "scale": {"domain": [0, 6239], "nice": false, "zero": false}, "axis": null}
      }
    },
    {
      "data": {"values": [{}]},
      "mark": {"type": "rule", "stroke": "#4a4aff", "strokeWidth": 1, "strokeDash": [7, 5], "clip": false},
      "encoding": {
        "x": {"datum": -1271, "type": "quantitative", "scale": {"domain": [0, 9290], "nice": false, "zero": false}, "axis": null},
        "y": {"datum": -3918, "type": "quantitative", "scale": {"domain": [0, 6239], "nice": false, "zero": false}, "axis": null},
        "y2": {"datum": 7272}
      }
    },
    {
      "data": {"values": [{}]},
      "mark": {"type": "rule", "stroke": "#4a4aff", "strokeWidth": 1, "strokeDash": [7, 5], "clip": false},
      "encoding": {
        "x": {"datum": 9941, "type": "quantitative", "scale": {"domain": [0, 9290], "nice": false, "zero": false}, "axis": null},
        "y": {"datum": -3918, "type": "quantitative", "scale": {"domain": [0, 6239], "nice": false, "zero": false}, "axis": null},
        "y2": {"datum": 7272}
      }
    },
    {
      "data": {"values": [{}]},
      "mark": {"type": "rule", "stroke": "#4a4aff", "strokeWidth": 1, "strokeDash": [7, 5], "clip": false},
      "encoding": {
        "x": {"datum": -1271, "type": "quantitative", "scale": {"domain": [0, 9290], "nice": false, "zero": false}, "axis": null},
        "x2": {"datum": 9941},
        "y": {"datum": 7272, "type": "quantitative", "scale": {"domain": [0, 6239], "nice": false, "zero": false}, "axis": null}
      }
    },
    {
      "data": {"values": [{}]},
      "mark": {"type": "rect", "filled": false, "stroke": "black", "strokeWidth": 1, "clip": false},
      "encoding": {
        "x": {"datum": 3021, "type": "quantitative", "scale": {"domain": [0, 9290], "nice": false, "zero": false}, "axis": null},
        "x2": {"datum": 5665},
        "y": {"datum": 6504, "type": "quantitative", "scale": {"domain": [0, 6239], "nice": false, "zero": false}, "axis": null},
        "y2": {"datum": 6982}
      }
    },
    {
      "data": {"values": [{"label": "Ladder Plot"}]},
      "mark": {"type": "text", "font": "Liberation Sans", "fontSize": 47, "fill": "black", "align": "center", "baseline": "alphabetic", "clip": false},
      "encoding": {
        "x": {"datum": 4345, "type": "quantitative", "scale": {"domain": [0, 9290], "nice": false, "zero": false}, "axis": null},
        "y": {"datum": 6606, "type": "quantitative", "scale": {"domain": [0, 6239], "nice": false, "zero": false}, "axis": null},
        "text": {"field": "label", "type": "nominal"}
      }
    },
    {
      "data": {"name": "curves"},
      "mark": {"type": "line", "interpolate": "monotone", "strokeWidth": 2},
      "encoding": {
        "x": {"field": "md", "type": "quantitative", "scale": {"domain": [0, 9290], "nice": false, "zero": false},
          "axis": {"orient": "bottom", "values": [0, 1500, 3000, 4500, 6000, 7500, 9000], "format": "d", "domain": false, "grid": true, "gridColor": "#808080", "gridWidth": 1, "ticks": true, "tickColor": "black", "tickWidth": 3, "tickSize": 15, "labelFont": "Liberation Sans", "labelFontSize": 26, "labelColor": "black", "labelPadding": 5, "labelFlush": false, "labelOverlap": false, "title": "Measured Depth", "titleFont": "Liberation Sans", "titleFontSize": 25, "titleFontWeight": "normal", "titleColor": "black", "titlePadding": 8}},
        "y": {"field": "sep", "type": "quantitative", "scale": {"domain": [0, 6239], "nice": false, "zero": false},
          "axis": {"orient": "left", "values": [0, 1500, 3000, 4500, 6000], "format": "d", "domain": false, "grid": true, "gridColor": "#808080", "gridWidth": 1, "ticks": true, "tickColor": "black", "tickWidth": 3, "tickSize": 20, "labelFont": "Liberation Sans", "labelFontSize": 26, "labelColor": "black", "labelPadding": 2, "labelOverlap": false, "title": "Centre to Centre Separation", "titleFont": "Liberation Sans", "titleFontSize": 24, "titleFontWeight": "normal", "titleColor": "black", "titlePadding": 7}},
        "color": {"field": "well", "type": "nominal", "legend": null}
      }
    },
    {
      "data": {"name": "markers"},
      "transform": [{"filter": {"field": "well", "oneOf": ["The Aggie 3H, Wellbore #1, Design #1 V0", "The Horned Frog 3H, Wellbore #1, Design #1 V0", "The Horned Frog 2H, Wellbore #1, Design #1 V0"]}}],
      "mark": {"type": "point", "shape": "square", "filled": false, "size": 400, "strokeWidth": 1.5, "opacity": 0.85},
      "encoding": {
        "x": {"field": "md", "type": "quantitative", "scale": {"domain": [0, 9290], "nice": false, "zero": false}, "axis": null},
        "y": {"field": "sep", "type": "quantitative", "scale": {"domain": [0, 6239], "nice": false, "zero": false}, "axis": null},
        "color": {"field": "well", "type": "nominal", "legend": null}
      }
    },
    {
      "data": {"name": "markers"},
      "transform": [{"filter": {"field": "well", "oneOf": ["The Aggie 2H, Wellbore #1, Design #1 V0", "The Aggie 32H, Wellbore #1, Design #1 V0"]}}],
      "mark": {"type": "point", "shape": "circle", "filled": false, "size": 360, "strokeWidth": 1.5, "opacity": 0.85},
      "encoding": {
        "x": {"field": "md", "type": "quantitative", "scale": {"domain": [0, 9290], "nice": false, "zero": false}, "axis": null},
        "y": {"field": "sep", "type": "quantitative", "scale": {"domain": [0, 6239], "nice": false, "zero": false}, "axis": null},
        "color": {"field": "well", "type": "nominal", "legend": null}
      }
    },
    {
      "data": {"name": "markers"},
      "transform": [{"filter": {"field": "well", "oneOf": ["The Aggie 1H, Wellbore #1, Design #1 V0", "The Horned Frog 1H, Wellbore #1, Design #1 V0"]}}],
      "mark": {"type": "point", "shape": "triangle-up", "filled": false, "size": 400, "strokeWidth": 1.5, "opacity": 0.85},
      "encoding": {
        "x": {"field": "md", "type": "quantitative", "scale": {"domain": [0, 9290], "nice": false, "zero": false}, "axis": null},
        "y": {"field": "sep", "type": "quantitative", "scale": {"domain": [0, 6239], "nice": false, "zero": false}, "axis": null},
        "color": {"field": "well", "type": "nominal", "legend": null}
      }
    },
    {
      "data": {"name": "markers"},
      "transform": [{"filter": {"field": "well", "oneOf": ["The Horned Frog 31H, Wellbore #1, Design #1 V0"]}}],
      "mark": {"type": "point", "shape": "diamond", "filled": false, "size": 360, "strokeWidth": 1.5, "opacity": 0.85},
      "encoding": {
        "x": {"field": "md", "type": "quantitative", "scale": {"domain": [0, 9290], "nice": false, "zero": false}, "axis": null},
        "y": {"field": "sep", "type": "quantitative", "scale": {"domain": [0, 6239], "nice": false, "zero": false}, "axis": null},
        "color": {"field": "well", "type": "nominal", "legend": null}
      }
    },
    {
      "data": {"name": "markers"},
      "transform": [{"filter": {"field": "well", "oneOf": ["The Horned Frog 32H, Wellbore #1, Design #1 V0"]}}],
      "mark": {"type": "point", "shape": "M-1,-1L1,1M-1,1L1,-1", "filled": false, "size": 360, "strokeWidth": 1.5, "opacity": 0.85},
      "encoding": {
        "x": {"field": "md", "type": "quantitative", "scale": {"domain": [0, 9290], "nice": false, "zero": false}, "axis": null},
        "y": {"field": "sep", "type": "quantitative", "scale": {"domain": [0, 6239], "nice": false, "zero": false}, "axis": null},
        "color": {"field": "well", "type": "nominal", "legend": null}
      }
    }
  ],
  "resolve": {"axis": {"x": "independent", "y": "independent"}}
}
